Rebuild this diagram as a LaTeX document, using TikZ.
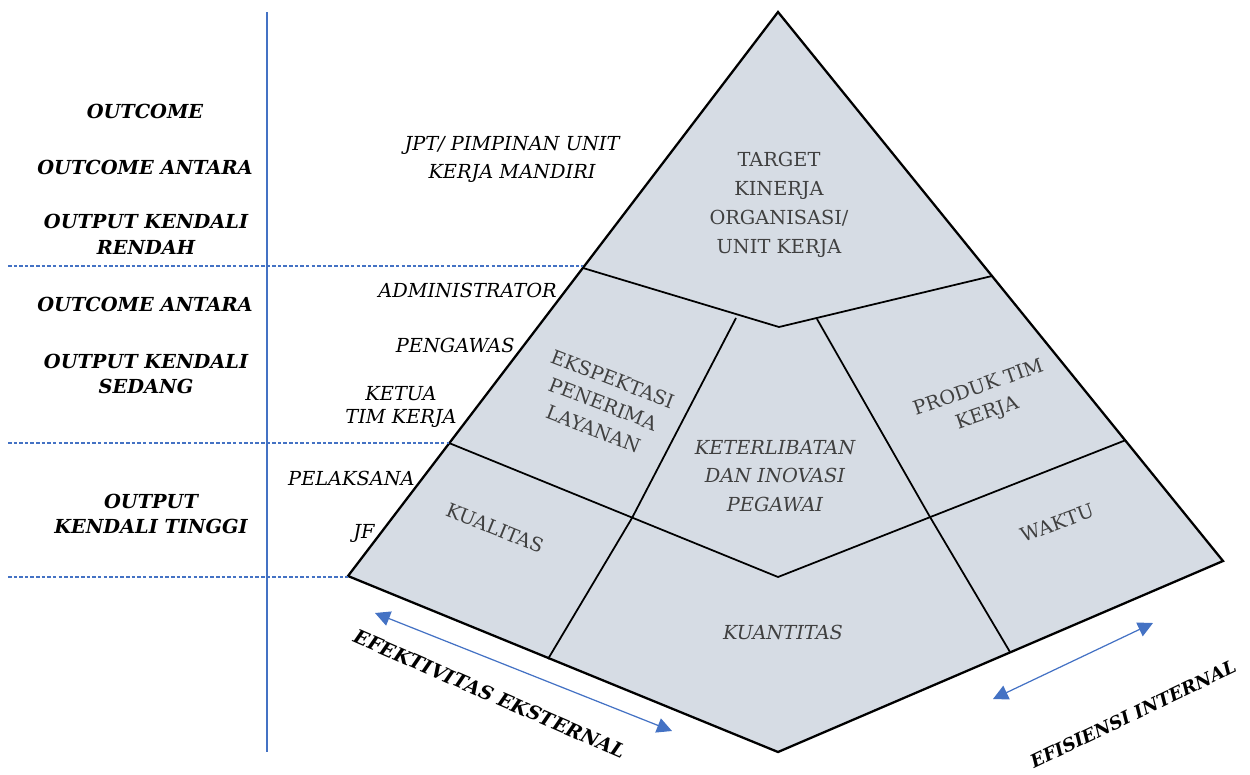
\documentclass[tikz,border=0pt]{standalone}
\usepackage{fontspec}
\setmainfont{DejaVu Serif}
\usepackage{tikz}
\usetikzlibrary{arrows.meta}

\definecolor{pyrfill}{RGB}{214,220,228}
\definecolor{lineblue}{RGB}{68,114,196}
\definecolor{areatext}{RGB}{64,64,64}

\tikzset{
	level/.style={font=\fontsize{11}{14.7}\selectfont\bfseries\itshape, align=center, inner sep=0pt},
	jabatan/.style={font=\fontsize{11}{15.9}\selectfont\itshape, align=center, inner sep=0pt},
	area/.style={font=\fontsize{11}{15.3}\selectfont, text=areatext, align=center, inner sep=0pt},
	batas/.style={lineblue, line width=0.6pt, dash pattern=on 2pt off 1.2pt},
	panah/.style={lineblue, line width=0.7pt, {Triangle[length=0.3cm,width=0.3cm]}-{Triangle[length=0.3cm,width=0.3cm]}},
	sekat/.style={line width=1pt}
}

\begin{document}
\begin{tikzpicture}[x=0.02cm, y=-0.02cm]
	\useasboundingbox (0,0) rectangle (1250,774);

	%corners
	\coordinate (top) at (778,12);
	\coordinate (lc) at (348,576);
	\coordinate (bot) at (778,752);
	\coordinate (rc) at (1223,561);

	%pyramid
	\filldraw[fill=pyrfill, draw=black, line width=1.3pt, line join=miter] (top)--(rc)--(bot)--(lc)--cycle;

	%inner lines
	\draw[sekat] (583,268)--(779,327)--(992,276);
	\draw[sekat] (449,443)--(778,577)--(1126,440);
	\draw[sekat] (736,318)--(632,518)--(548,659);
	\draw[sekat] (817,319)--(930,517)--(1010,652);

	%left axis and levels
	\draw[lineblue, line width=0.7pt] (267,12)--(267,752);
	\draw[batas] (8,266)--(583,266);
	\draw[batas] (8,443)--(449,443);
	\draw[batas] (8,577)--(348,577);

	%arrows
	\coordinate (ef1) at (375,613);
	\coordinate (ef2) at (672,731);
	\coordinate (in1) at (993,699);
	\coordinate (in2) at (1153,623);
	\draw[panah] (ef1)--(ef2);
	\draw[panah] (in1)--(in2);

	%level labels
	\node[level] (lv1) at (145,111) {OUTCOME};
	\node[level] (lv2) at (145,167) {OUTCOME ANTARA};
	\node[level] (lv3) at (146,234) {OUTPUT KENDALI\\RENDAH};
	\node[level] (lv4) at (145,304) {OUTCOME ANTARA};
	\node[level] (lv5) at (146,374) {OUTPUT KENDALI\\SEDANG};
	\node[level] (lv6) at (151,514) {OUTPUT\\KENDALI TINGGI};

	%jabatan labels
	\node[jabatan] (jpt) at (512,159) {JPT/ PIMPINAN UNIT\\KERJA MANDIRI};
	\node[jabatan, anchor=east] (adm) at (557,290) {ADMINISTRATOR};
	\node[jabatan, anchor=east] (pgw) at (515,345) {PENGAWAS};
	\node[jabatan, font=\fontsize{11}{13.6}\selectfont\itshape] (ktu) at (401,407) {KETUA\\TIM KERJA};
	\node[jabatan, anchor=east] (plk) at (415,478) {PELAKSANA};
	\node[jabatan, anchor=east] (jf) at (375,533) {JF};

	%areas
	\node[area, font=\fontsize{11}{16.4}\selectfont] (tkn) at (779,205) {TARGET\\KINERJA\\ORGANISASI/\\UNIT KERJA};
	\node[area, rotate=-21] (eks) at (603,404) {EKSPEKTASI\\PENERIMA\\LAYANAN};
	\node[area, font=\fontsize{11}{16.2}\selectfont\itshape] (ket) at (775,476) {KETERLIBATAN\\DAN INOVASI\\PEGAWAI};
	\node[area, rotate=19] (prd) at (983,401) {PRODUK TIM\\KERJA};
	\node[area, rotate=20] (wkt) at (1057,523) {WAKTU};
	\node[area, rotate=-22] (kua) at (495,528) {KUALITAS};
	\node[area, font=\fontsize{11}{15.5}\selectfont\itshape] (kuan) at (783,632) {KUANTITAS};

	%axis labels
	\node[level, rotate=-23.5] (eft) at (490,694) {EFEKTIVITAS EKSTERNAL};
	\node[level, rotate=25.5, font=\fontsize{10.3}{12}\selectfont\bfseries\itshape] (efi) at (1133,714) {EFISIENSI INTERNAL};
\end{tikzpicture}
\end{document}
